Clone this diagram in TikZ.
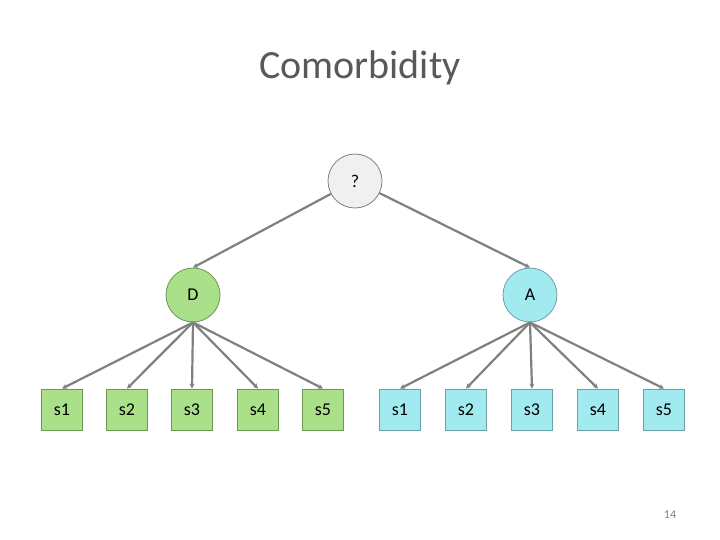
\documentclass[tikz,border=0pt]{standalone}
\usepackage{fontspec}
\setmainfont{Carlito}
\usetikzlibrary{arrows.meta}
\definecolor{gfill}{RGB}{169,224,137}
\definecolor{gdraw}{RGB}{110,150,85}
\definecolor{cfill}{RGB}{160,234,240}
\definecolor{cdraw}{RGB}{110,160,168}
\definecolor{qfill}{RGB}{240,240,240}
\definecolor{qdraw}{RGB}{128,128,128}
\definecolor{edge}{RGB}{128,128,128}
\definecolor{titlec}{RGB}{89,89,89}
\tikzset{
  circ/.style={circle, draw, line width=0.8pt, minimum size=54pt, inner sep=0pt, font=\fontsize{18}{20}\selectfont},
  sbox/.style={rectangle, draw, line width=0.8pt, minimum size=41pt, inner sep=0pt, font=\fontsize{18}{20}\selectfont},
  gbox/.style={sbox, fill=gfill, draw=gdraw},
  cbox/.style={sbox, fill=cfill, draw=cdraw},
  link/.style={draw=edge, line width=2.2pt, -{Stealth[length=5pt,width=5pt]}}
}
\begin{document}
\begin{tikzpicture}[x=1pt,y=-1pt]
\useasboundingbox (0,0) rectangle (720,540);
\node[text=titlec, font=\fontsize{40}{46}\selectfont] (title) at (360,68) {Comorbidity};
\node[circ, fill=qfill, draw=qdraw] (q) at (355,181) {?};
\node[circ, fill=gfill, draw=gdraw] (D) at (193,295) {D};
\node[circ, fill=cfill, draw=cdraw] (A) at (530,295) {A};
\foreach \i/\x in {1/62,2/127,3/192,4/258,5/323}{
  \node[gbox] (g\i) at (\x,409.5) {s\i};
}
\foreach \i/\x in {1/400,2/466,3/532,4/598,5/664}{
  \node[cbox] (c\i) at (\x,409.5) {s\i};
}
\draw[link] (q) -- (D.north);
\draw[link] (q) -- (A.north);
\foreach \i in {1,...,5}{
  \draw[link] (D.south) -- (g\i.north);
  \draw[link] (A.south) -- (c\i.north);
}
\node[text=qdraw, font=\fontsize{12}{14}\selectfont] (page) at (670,515) {14};
\end{tikzpicture}
\end{document}
